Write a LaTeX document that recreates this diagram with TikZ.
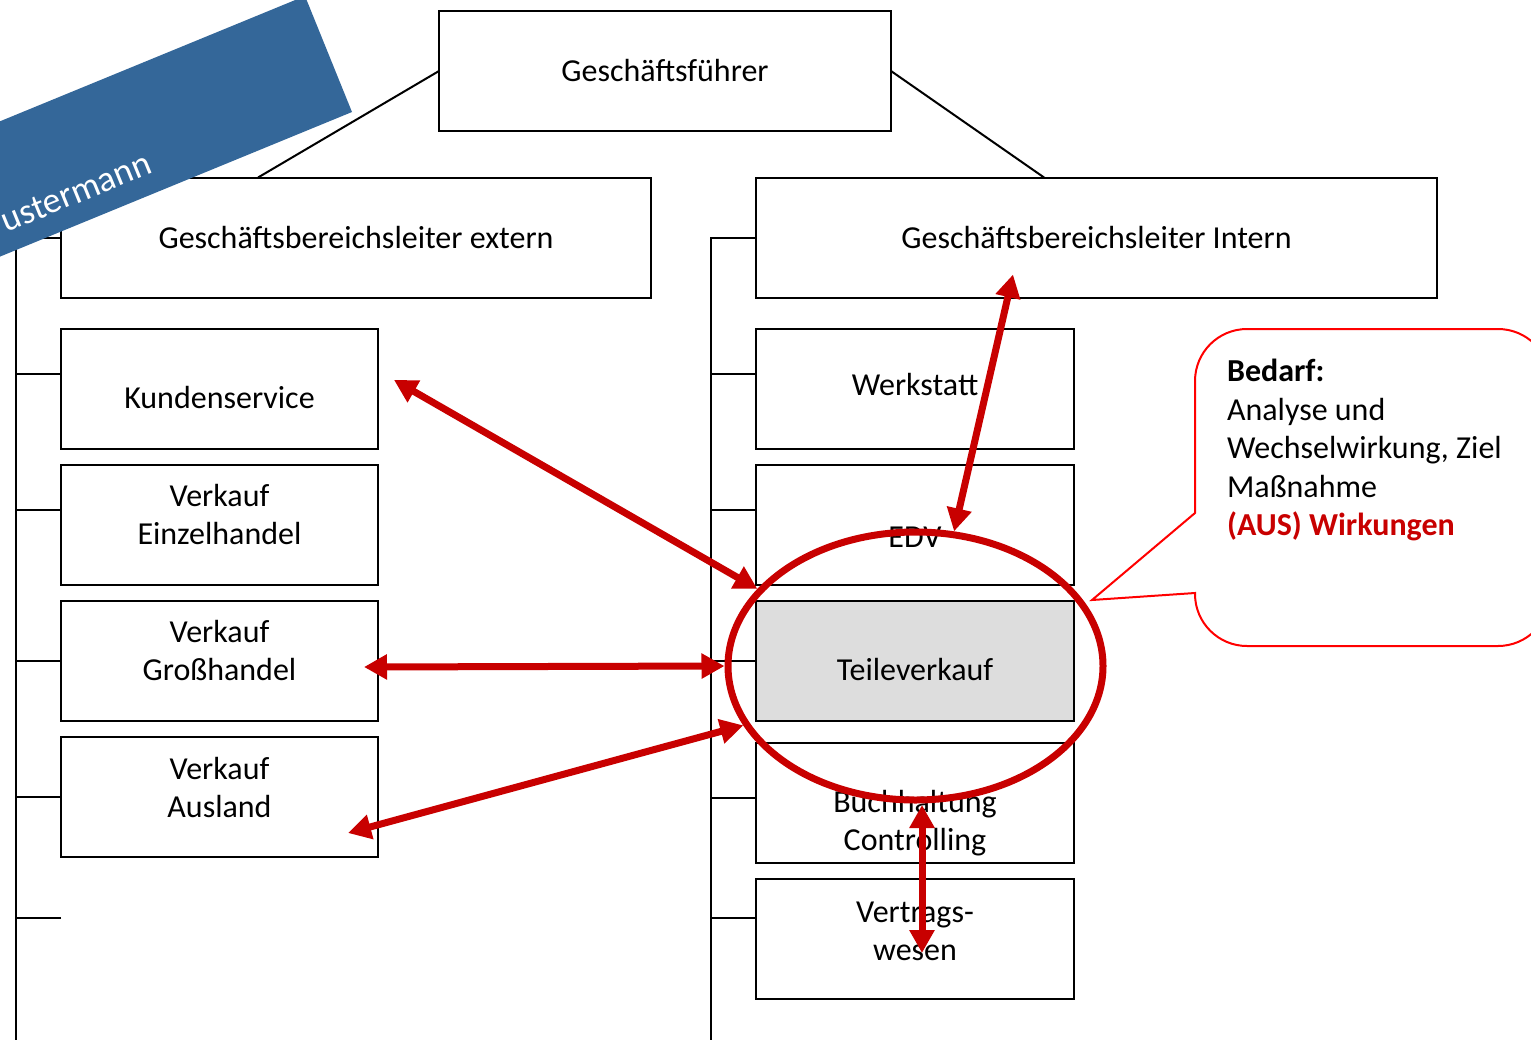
\documentclass[tikz,border=0pt]{standalone}
\usepackage{fontspec}
\setmainfont{Carlito}
\usetikzlibrary{positioning,
calc,
shapes.geometric,
arrows.meta}
\definecolor{darkred}{RGB}{200,0,0}
\definecolor{bannerblue}{RGB}{52,103,153}
\definecolor{lightgrey}{RGB}{221,221,221}
\tikzstyle{Box} = [
draw, line width=1pt,
rectangle, outer sep=0pt, inner sep=2pt,
align=center,
minimum width=158.5pt, minimum height=60pt
]
\tikzstyle{Arrow} = [
line width=3.5pt, darkred,
{Triangle[length=11.5pt,width=12pt]}-{Triangle[length=11.5pt,width=12pt]}
]
\tikzstyle{Ring} = [
draw=darkred, line width=3.5pt,
ellipse, inner sep=0pt,
minimum width=187.5pt, minimum height=134pt
]
\tikzstyle{Bubble} = [draw=red, line width=1pt]
% box text, raised or lowered inside its frame
\newcommand{\boxtext}[2]{\raisebox{#1}[\height][\depth]{\begin{tabular}{@{}c@{}}#2\end{tabular}}}

\begin{document}
\begin{tikzpicture}[x=0.5pt, y=-0.5pt, font=\fontsize{16}{19.3}\selectfont]
            \useasboundingbox (0,0) rectangle (1531,1039);
            \clip (0,0) rectangle (1531,1039);

            \node [Box, minimum width=226pt] (gf) at (665,71) {Geschäftsführer};
            \node [Box, minimum width=295pt] (extern) at (356,237.5) {Geschäftsbereichsleiter extern};
            \node [Box, minimum width=340.5pt] (intern) at (1096.5,237.5) {Geschäftsbereichsleiter Intern};

            \node [Box] (kunden) at (219.5,389) {\boxtext{-5.8pt}{Kundenservice}};
            \node [Box, below=8pt of kunden] (einzel) {\boxtext{3.7pt}{Verkauf\\Einzelhandel}};
            \node [Box, below=8pt of einzel] (gross) {\boxtext{3.7pt}{Verkauf\\Großhandel}};
            \node [Box, below=8pt of gross] (ausland) {\boxtext{3.2pt}{Verkauf\\Ausland}};

            \node [Box, minimum width=159pt] (werkstatt) at (915,389) {\boxtext{0.7pt}{Werkstatt}};
            \node [Box, minimum width=159pt, below=8pt of werkstatt] (edv) {\boxtext{-7.3pt}{EDV}};
            \node [Box, minimum width=159pt, fill=lightgrey, below=8pt of edv] (teile) {\boxtext{-5.8pt}{Teileverkauf}};
            \node [Box, minimum width=159pt, below=11pt of teile] (buch) {\boxtext{-10.3pt}{Buchhaltung\\Controlling}};
            \node [Box, minimum width=159pt, below=8pt of buch] (vertrag) {\boxtext{2.7pt}{Vertrags-\\wesen}};

            \coordinate (leftend) at (16,1045);
            \coordinate (rightend) at (711,1045);
            \coordinate (spare) at (61,918);

            \draw [line width=1pt] (gf.west) -- ($(extern.north west)!0.334!(extern.north east)$);
            \draw [line width=1pt] (gf.east) -- ($(intern.north west)!0.423!(intern.north east)$);
            \draw [line width=1pt] (extern.west) -| (leftend);
            \draw [line width=1pt] (intern.west) -| (rightend);
            \foreach \n/\dy in {kunden/7.5pt, einzel/7.5pt, gross/0pt, ausland/0pt,
                                werkstatt/7.5pt, edv/7.5pt, teile/0pt, buch/2.5pt, vertrag/10.5pt}
                \draw [line width=1pt] ([yshift=\dy]\n.west) -- ++(-45,0);
            \draw [line width=1pt] (spare) -- ++(-45,0);

            \node [Ring] (focus) at (915.5,666) {};

            \draw [Arrow] ([shift={(8pt,4.5pt)}]kunden.east) -- (focus.154);
            \draw [Arrow] ([shift={(-7pt,-3pt)}]gross.east) -- (focus.180);
            \draw [Arrow] ([shift={(-15pt,-18pt)}]ausland.east) -- (focus.199);
            \draw [Arrow] ([shift={(-41.75pt,11.5pt)}]intern.south) -- (focus.74);
            \draw [Arrow] ([shift={(3.5pt,-1pt)}]buch.center) -- ([shift={(3.5pt,-7pt)}]vertrag.center);

            % speech bubble
            \coordinate (tip) at (1092,600);
            \draw [Bubble] (tip) -- (1195,513) [rounded corners=26pt] -- (1195,329) -- (1550,329)
                -- (1550,646) -- (1195,646) [sharp corners] -- (1195,593) -- cycle;
            \node [anchor=north west, align=left] (bedarf) at (1220,352)
                {\textbf{Bedarf:}\\Analyse und\\Wechselwirkung, Ziel\\Maßnahme\\\textcolor{darkred}{\textbf{(AUS) Wirkungen}}};

            % banner
            \fill [bannerblue] (-65,148) -- (305,-4) -- (352,112) -- (-18,264) -- cycle;
            \node [text=white, rotate=22.3, font=\fontsize{18}{20}\selectfont] (owner) at (76,192) {ustermann};
        \end{tikzpicture}
\end{document}
